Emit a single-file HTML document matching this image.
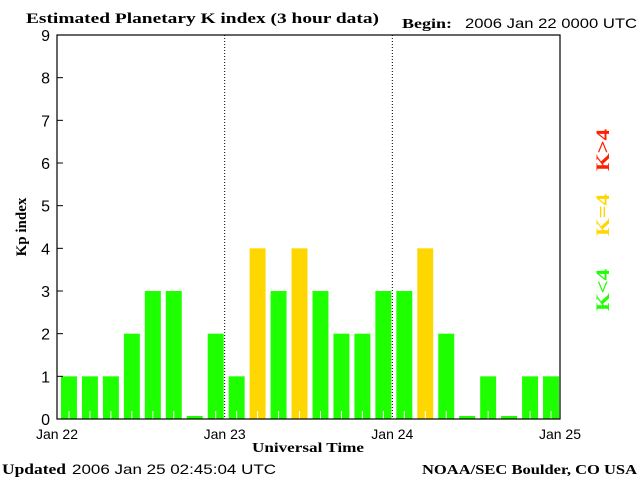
<!DOCTYPE html>
<html><head><meta charset="utf-8"><style>
html,body{margin:0;padding:0;background:#fff;}
svg text{font-family:"Liberation Serif",serif;}
</style></head><body>
<svg width="640" height="480" xmlns="http://www.w3.org/2000/svg">
<rect width="640" height="480" fill="#fff"/>
<text x="26" y="23" font-size="15" font-weight="bold" textLength="353" lengthAdjust="spacingAndGlyphs">Estimated Planetary K index (3 hour data)</text>
<text x="402" y="28" font-size="14" font-weight="bold" textLength="50" lengthAdjust="spacingAndGlyphs">Begin:</text>
<text x="465" y="28" font-size="14" textLength="172" lengthAdjust="spacingAndGlyphs" style="font-family:'Liberation Sans',sans-serif">2006 Jan 22 0000 UTC</text>
<g id="plot"></g>
<text x="26" y="227" font-size="15" font-weight="bold" transform="rotate(-90 26 227)" text-anchor="middle">Kp index</text>
<text x="308" y="452" font-size="14" font-weight="bold" text-anchor="middle" textLength="112" lengthAdjust="spacingAndGlyphs">Universal Time</text>
<text x="2" y="474" font-size="15" font-weight="bold" textLength="64" lengthAdjust="spacingAndGlyphs">Updated</text>
<text x="72" y="474" font-size="14" textLength="204" lengthAdjust="spacingAndGlyphs" style="font-family:'Liberation Sans',sans-serif">2006 Jan 25 02:45:04 UTC</text>
<text x="422" y="474" font-size="14" font-weight="bold" textLength="215" lengthAdjust="spacingAndGlyphs">NOAA/SEC Boulder, CO USA</text>
<text x="609" y="150" font-size="19" font-weight="bold" fill="#ff2000" transform="rotate(-90 609 150)" text-anchor="middle" textLength="42" lengthAdjust="spacingAndGlyphs">K&gt;4</text>
<text x="609" y="215" font-size="19" font-weight="bold" fill="#ffd700" transform="rotate(-90 609 215)" text-anchor="middle" textLength="42" lengthAdjust="spacingAndGlyphs">K=4</text>
<text x="609" y="290" font-size="19" font-weight="bold" fill="#1eff00" transform="rotate(-90 609 290)" text-anchor="middle" textLength="42" lengthAdjust="spacingAndGlyphs">K&lt;4</text>
</svg>
<script>
const values=[1,1,1,2,3,3,0,2,1,4,3,4,3,2,2,3,3,4,2,0,1,0,1,1];
const yTicks=[0,1,2,3,4,5,6,7,8,9];
const dayLabels=["Jan 22","Jan 23","Jan 24","Jan 25"];
const NS="http://www.w3.org/2000/svg";
const L=57,R=560,T=35,B=419;
const x=i=>L+(R-L)*i/values.length;
const y=v=>B-(B-T)*v/9;
const g=document.getElementById('plot');
function mk(t,a){const e=document.createElementNS(NS,t);for(const k in a)e.setAttribute(k,a[k]);g.appendChild(e);return e;}
const bw=(R-L)/values.length;
values.forEach((v,i)=>{
  const h=Math.max(B-y(v),3);
  const c=v>4?"#ff2000":(v==4?"#ffd700":"#1eff00");
  const r=mk('rect',{x:x(i)+4,y:B-h,width:bw-5,height:h,fill:c});
  
  
  if(v>0){const tk=mk('line',{x1:x(i)+bw/2+1.5,x2:x(i)+bw/2+1.5,y1:B-8,y2:B,stroke:'#fff','stroke-width':1});
  
  }
});
for(let d=1;d<dayLabels.length-1;d++){
  const xx=L+(R-L)*d/3;
  const ln=mk('line',{x1:xx,x2:xx,y1:T,y2:B,stroke:'#000','stroke-dasharray':'1,2'});
  
  
}
const fr=mk('rect',{x:L,y:T,width:R-L,height:B-T,fill:'none',stroke:'#000','stroke-width':1.2});


yTicks.forEach(t=>{
  const tl=mk('line',{x1:L,x2:L+6,y1:y(t),y2:y(t),stroke:'#000'});
  
  
  const tx=mk('text',{x:L-7,y:y(t)+6,'font-size':16,'text-anchor':'end',style:"font-family:'Liberation Sans',sans-serif"});
  tx.textContent=t;
  
  
});
dayLabels.forEach((d,i)=>{
  const tx=mk('text',{x:L+(R-L)*i/3,y:439,'font-size':14,'text-anchor':'middle',style:"font-family:'Liberation Sans',sans-serif"});
  tx.textContent=d;
  
  
});
</script>
</body></html>
